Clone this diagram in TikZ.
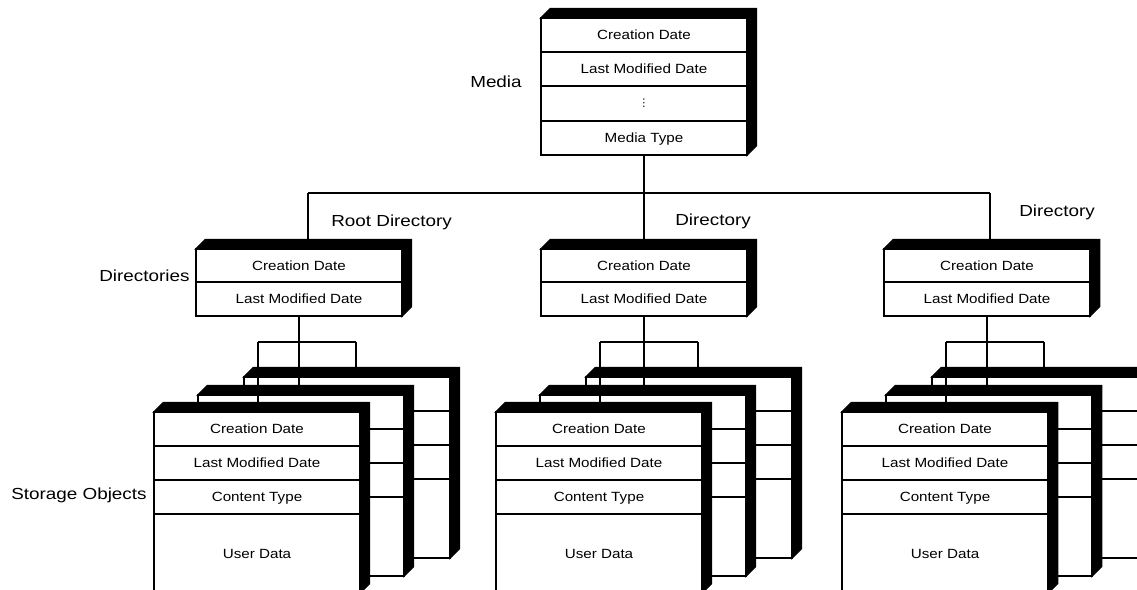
\documentclass[tikz,border=0pt]{standalone}
\usepackage{fontspec}
\setmainfont{Liberation Sans}
\newfontfamily\boxfam{Liberation Sans}[FakeStretch=1.14]
\newfontfamily\labfam{Liberation Sans}[FakeStretch=1.18]
\newfontfamily\symfam{DejaVu Sans}
\usetikzlibrary{calc}
\newcommand\dep{9.5}
\tikzset{
  boxface/.style={draw, fill=white, line width=1.1pt, inner sep=0pt, outer sep=0pt},
  shade3d/.style={fill=black, draw=black, line width=1.1pt},
  conn/.style={draw, line width=1.1pt},
  boxtext/.style={font=\boxfam\fontsize{10}{12}\selectfont, inner sep=0pt, text height=7.16pt, text depth=0pt, anchor=center},
  labtext/.style={font=\labfam\fontsize{12}{14}\selectfont, inner sep=0pt, anchor=base west},
}
% name, x left, y top, width, height (in px units)
\newcommand\mkbox[5]{%
  \node[boxface, minimum width=#4*0.75pt, minimum height=#5*0.75pt, anchor=north west] (#1) at (#2,#3) {};
  \path[shade3d] (#1.north west) -- ++(\dep,-\dep) -- ($(#1.north east)+(\dep,-\dep)$) -- ($(#1.south east)+(\dep,-\dep)$) -- (#1.south east) -- (#1.north east) -- cycle;
  \coordinate (#1t) at ($(#1.north)+(0,-\dep)$);
}
% storage object box: name, x left, y top
\newcommand\storebox[3]{%
  \mkbox{#1}{#2}{#3}{206}{181}
  \foreach \r in {34,68,102} {\draw[conn] (#2,#3+\r) -- (#2+206,#3+\r);}
}
% group: id, x of front storage box, x of directory box
\newcommand\grp[3]{%
  \mkbox{#1d}{#3}{249}{206}{67}
  \draw[conn] (#3,282) -- (#3+206,282);
  \node[boxtext] (#1d1) at (#3+103,265.5) {Creation Date};
  \node[boxtext] (#1d2) at (#3+103,299) {Last Modified Date};
  \storebox{#1b}{#2+90}{377}
  \storebox{#1m}{#2+44}{395}
  \storebox{#1f}{#2}{412}
  \node[boxtext] (#1f1) at (#2+103,429) {Creation Date};
  \node[boxtext] (#1f2) at (#2+103,463) {Last Modified Date};
  \node[boxtext] (#1f3) at (#2+103,497) {Content Type};
  \node[boxtext] (#1f4) at (#2+103,553.5) {User Data};
  \coordinate (#1L) at (#2+104,342);
  \coordinate (#1R) at (#2+202,342);
  \draw[conn] (#1d.south) -- (#1d.south |- #1mt);
  \draw[conn] (#1L) -- (#1R);
  \draw[conn] (#1L) -- (#1L |- #1ft);
  \draw[conn] (#1R) -- (#1R |- #1bt);
}
\begin{document}
\begin{tikzpicture}[x=0.75pt, y=-0.75pt]
\useasboundingbox (0,0) rectangle (1137,589);
\clip (0,0) rectangle (1137,589);
\fill[white] (0,0) rectangle (1137,589);
% Media box
\mkbox{media}{541}{18}{206}{137}
\foreach \r in {34,68,103} {\draw[conn] (541,18+\r) -- (747,18+\r);}
\node[boxtext] (m1) at (644,35) {Creation Date};
\node[boxtext] (m2) at (644,69) {Last Modified Date};
\node[inner sep=0pt, font=\symfam\fontsize{8}{9}\selectfont] (m3) at (644,103.5) {⋮};
\node[boxtext] (m4) at (644,138) {Media Type};
% groups
\grp{A}{154}{196}
\grp{B}{496}{541}
\grp{C}{842}{884}
% bus
\coordinate (busL) at (308,193);
\coordinate (busR) at (990,193);
\draw[conn] (busL) -- (busR);
\draw[conn] (media.south) -- (media.south |- Bdt);
\draw[conn] (busL) -- (busL |- Adt);
\draw[conn] (busR) -- (busR |- Cdt);
% labels
\node[labtext] (lmedia) at (470,87.3) {Media};
\node[labtext] (lroot) at (331,226.7) {Root Directory};
\node[labtext] (ldirs) at (99,281.7) {Directories};
\node[labtext] (ldirB) at (675,225.7) {Directory};
\node[labtext] (ldirC) at (1019,216.7) {Directory};
\node[labtext] (lstore) at (11,499.3) {Storage Objects};
\end{tikzpicture}
\end{document}
